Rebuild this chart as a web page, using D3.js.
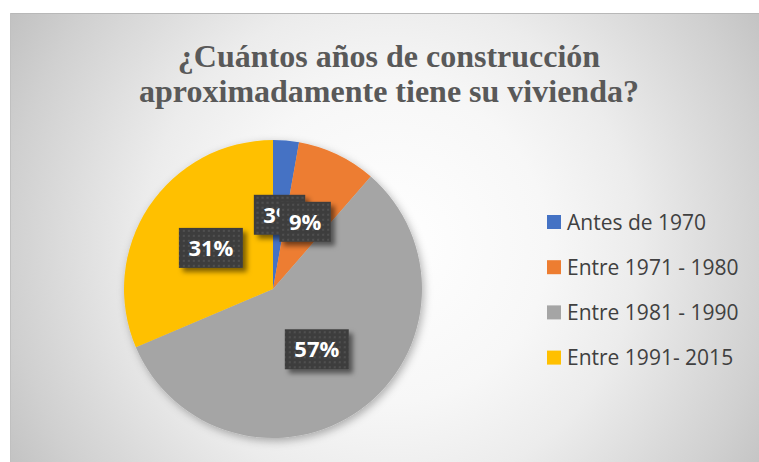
<!DOCTYPE html>
<html>
<head>
<meta charset="utf-8">
<script src="https://cdn.jsdelivr.net/npm/d3@7"></script>
<style>
  html, body { margin: 0; padding: 0; background: #ffffff; }
  svg { display: block; }
</style>
</head>
<body>
<svg id="chart" width="759" height="462"></svg>
<script>
// ---- data ----
const categories = ["Antes de 1970", "Entre 1971 - 1980", "Entre 1981 - 1990", "Entre 1991- 2015"];
const values = [2.8, 8.6, 57.2, 31.4];
const percentLabels = ["3%", "9%", "57%", "31%"];
const colors = ["#4472C4", "#ED7D31", "#A5A5A5", "#FFC000"];
const titleLines = ["¿Cuántos años de construcción", "aproximadamente tiene su vivienda?"];

const W = 759, H = 462;
const svg = d3.select("#chart");
const defs = svg.append("defs");

// background gradient
const bg = defs.append("radialGradient").attr("id", "bgGrad")
  .attr("gradientUnits", "userSpaceOnUse")
  .attr("cx", 390).attr("cy", 245).attr("r", 450);
[[0, "#ffffff"], [0.35, "#f7f7f7"], [0.55, "#ececec"], [0.85, "#d0d0d0"], [1, "#c0c0c0"]]
  .forEach(([o, c]) => bg.append("stop").attr("offset", o).attr("stop-color", c));

// dot pattern for label boxes
const pat = defs.append("pattern").attr("id", "dots")
  .attr("patternUnits", "userSpaceOnUse").attr("width", 5).attr("height", 5);
pat.append("rect").attr("width", 5).attr("height", 5).attr("fill", "#3e3e3e");
pat.append("rect").attr("x", 2).attr("y", 2).attr("width", 2).attr("height", 2).attr("fill", "#505050");

// shadows
const f1 = defs.append("filter").attr("id", "pieShadow")
  .attr("x", "-20%").attr("y", "-20%").attr("width", "140%").attr("height", "140%");
f1.append("feDropShadow").attr("dx", 2).attr("dy", 3).attr("stdDeviation", 4)
  .attr("flood-color", "#000").attr("flood-opacity", 0.3);
const f2 = defs.append("filter").attr("id", "boxShadow")
  .attr("x", "-30%").attr("y", "-30%").attr("width", "160%").attr("height", "160%");
f2.append("feDropShadow").attr("dx", 4).attr("dy", 4).attr("stdDeviation", 2.5)
  .attr("flood-color", "#000").attr("flood-opacity", 0.5);

// chart area
svg.append("rect").attr("x", 10).attr("y", 13).attr("width", W - 10).attr("height", H - 13)
  .attr("fill", "url(#bgGrad)");
svg.append("line").attr("x1", 10).attr("x2", W).attr("y1", 13.5).attr("y2", 13.5)
  .attr("stroke", "#b8b8b8").attr("stroke-width", 1);
svg.append("line").attr("x1", 10.5).attr("x2", 10.5).attr("y1", 13).attr("y2", H)
  .attr("stroke", "#c0c0c0").attr("stroke-width", 1);

// title
svg.append("text")
  .attr("x", 389).attr("text-anchor", "middle")
  .attr("font-family", "'Liberation Serif', 'Times New Roman', serif")
  .attr("font-weight", "bold").attr("font-size", 32).attr("fill", "#595959")
  .selectAll("tspan").data(titleLines).join("tspan")
  .attr("x", 389).attr("y", (d, i) => 67 + i * 35).text(d => d);

// pie
const cx = 273, cy = 289, R = 149;
const pie = d3.pie().sort(null).value(d => d);
const arcs = pie(values);
const arc = d3.arc().innerRadius(0).outerRadius(R);
const labelArc = d3.arc().innerRadius(0).outerRadius(R);

const g = svg.append("g").attr("transform", `translate(${cx},${cy})`);
g.append("g").attr("filter", "url(#pieShadow)")
  .selectAll("path").data(arcs).join("path")
  .attr("d", arc).attr("fill", (d, i) => colors[i]);

// labels
const lg = g.append("g");
arcs.forEach((d, i) => {
  const [x, y] = labelArc.centroid(d);
  const grp = lg.append("g").attr("transform", `translate(${x},${y})`);
  const rect = grp.append("rect").attr("fill", "url(#dots)").attr("filter", "url(#boxShadow)");
  const t = grp.append("text")
    .attr("text-anchor", "middle").attr("dy", "0.36em")
    .attr("font-family", "'Open Sans', sans-serif").attr("font-weight", "bold")
    .attr("font-size", 22).attr("fill", "#ffffff")
    .text(percentLabels[i]);
  const w = t.node().getComputedTextLength() + 19;
  const h = 40;
  rect.attr("x", -w / 2).attr("y", -h / 2).attr("width", w).attr("height", h);
});

// legend
const leg = svg.append("g");
categories.forEach((c, i) => {
  const yc = 222 + i * 45.2;
  leg.append("rect").attr("x", 547).attr("y", yc - 7).attr("width", 14).attr("height", 14)
    .attr("fill", colors[i]);
  leg.append("text").attr("x", 567).attr("y", yc + 7.5)
    .attr("font-family", "'Open Sans', sans-serif").attr("font-size", 21)
    .attr("fill", "#404040").text(c);
});
</script>
</body>
</html>
